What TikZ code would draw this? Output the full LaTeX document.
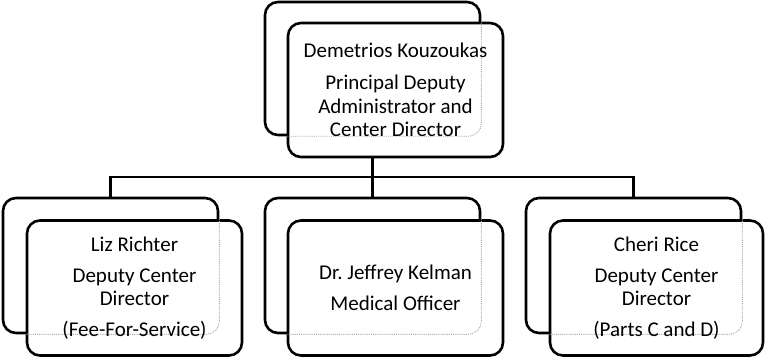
\documentclass[tikz,border=0pt]{standalone}
\usepackage{fontspec}
\setmainfont{Carlito}
\frenchspacing
\usetikzlibrary{positioning}
\tikzset{
  unitbox/.style={draw, line width=2.6pt, rounded corners=13pt, minimum width=215pt, minimum height=135pt, fill=white, inner sep=0pt},
  hiddenedge/.style={draw=gray!65, line width=0.9pt, densely dotted, rounded corners=13pt},
  unittext/.style={align=center, font=\fontsize{21}{23.5}\selectfont, inner sep=0pt},
  link/.style={line width=2.3pt}
}
\begin{document}
\begin{tikzpicture}[x=1pt,y=-1pt]
  \useasboundingbox (0,0) rectangle (765,358); % page frame
  % back boxes
  \node [unitbox, minimum height=133pt] (topback) at (372.5,68.5) {};
  \node [unitbox] (leftback) at (110.5,265.5) {};
  \node [unitbox] (midback) at (372.5,265.5) {};
  \node [unitbox] (rightback) at (633.5,265.5) {};
  % front boxes
  \node [unitbox, minimum height=134pt] (topfront) at ([shift={(23,21.5)}]topback.center) {};
  \node [unitbox] (leftfront) at ([shift={(24,22.5)}]leftback.center) {};
  \node [unitbox] (midfront) at ([shift={(23,22.5)}]midback.center) {};
  \node [unitbox, minimum width=213pt] (rightfront) at ([shift={(23,22.5)}]rightback.center) {};
  % hidden edges of the back boxes
  \foreach \u in {top,left,mid,right} {
    \begin{scope}
      \clip [rounded corners=13pt] (\u front.south west) rectangle (\u front.north east);
      \draw [hiddenedge] (\u back.south west) rectangle (\u back.north east);
    \end{scope}
  }
  % texts
  \node [unittext] (toptext) at (topfront.center) {Demetrios Kouzoukas\\[9pt]Principal Deputy\\Administrator and\\Center Director};
  \node [unittext] (lefttext) at (leftfront.center) {Liz Richter\\[7.5pt]Deputy Center\\Director\\[7pt](Fee-For-Service)};
  \node [unittext] (midtext) at (midfront.center) {Dr. Jeffrey Kelman\\[7pt]Medical Officer};
  \node [unittext] (righttext) at (rightfront.center) {Cheri Rice\\[7.5pt]Deputy Center\\Director\\[7pt](Parts C and D)};
  % connectors
  \draw [link, line width=2.8pt] (topfront.south -| topback.center) -- (midback.north); % down to the middle
  \draw [link] (leftback.north) -- ++(0,-20) -| (rightback.north); % bar over the three units
\end{tikzpicture}
\end{document}
